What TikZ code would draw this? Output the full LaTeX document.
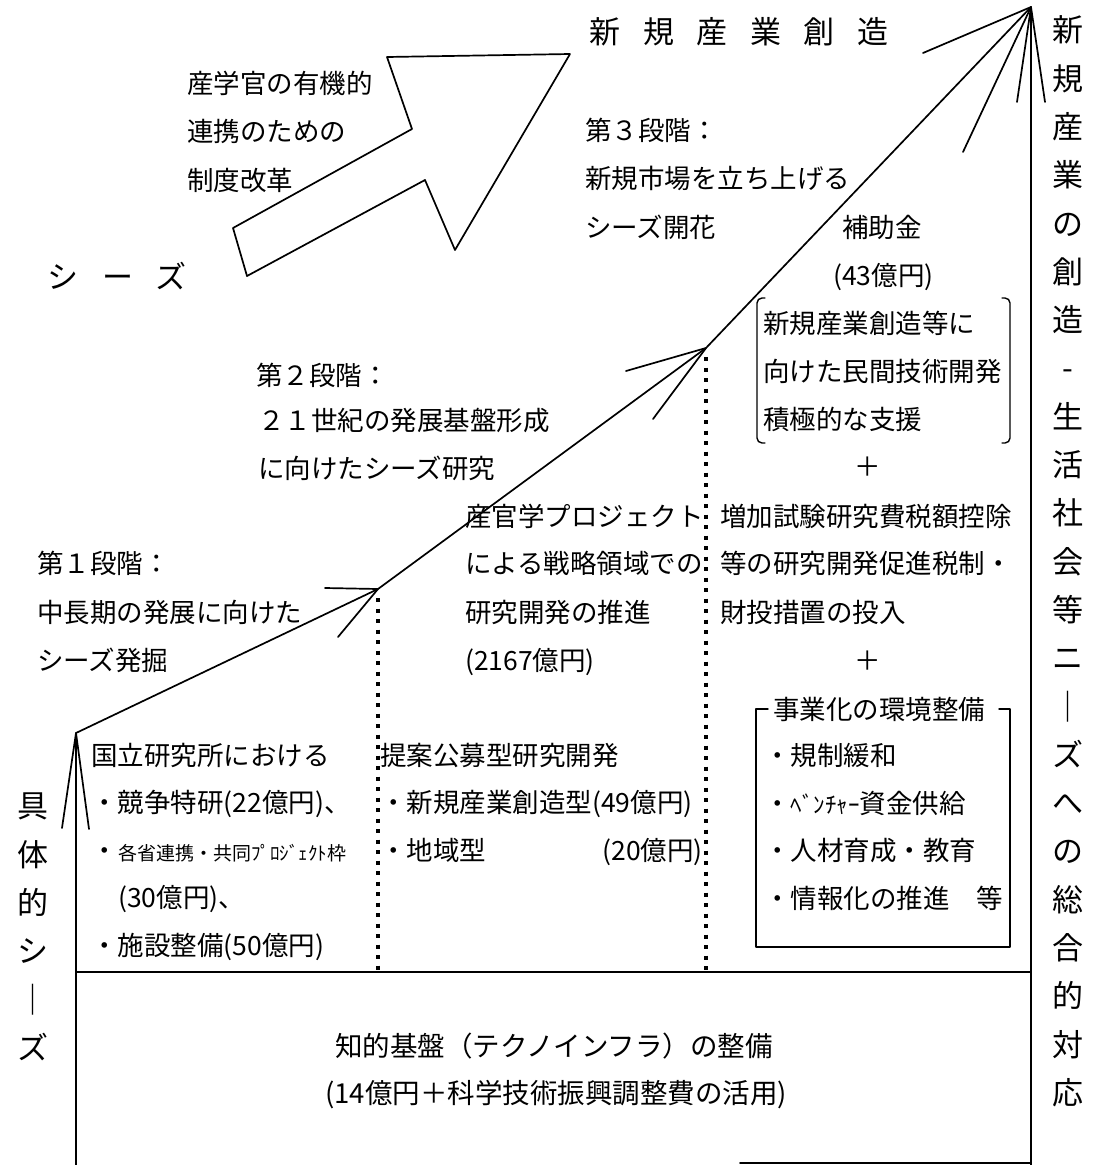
\documentclass[tikz,border=0pt]{standalone}
\usepackage{fontspec}
\newfontfamily\jp{Noto Sans CJK JP}
\begin{document}
\begin{tikzpicture}[x=1pt,y=-1pt,
  txt/.style={anchor=west,inner sep=0pt,font=\jp\fontsize{26.5}{30}\selectfont,text height=23.3pt,text depth=3.2pt},
  ctr/.style={anchor=center,inner sep=0pt,font=\jp\fontsize{27.5}{30}\selectfont,text height=24.2pt,text depth=3.3pt},
  wide/.style={anchor=center,inner sep=0pt,font=\jp\fontsize{31}{34}\selectfont,text height=27.3pt,text depth=3.7pt},
  ln/.style={line width=1.7pt,line cap=round,line join=round},
  thin/.style={line width=1.4pt,line cap=round,line join=round},
  dotline/.style={line width=3.6pt,dash pattern=on 4pt off 6.5pt}]
\useasboundingbox (0,0) rectangle (1111,1165);

% ---- block arrow (institutional reform) ----
\draw[ln] (233,228) -- (412,129) -- (387,57) -- (570,54) -- (455,250) -- (425,180) -- (247,276) -- cycle;

% ---- main staircase line ----
\coordinate (A0) at (76,733);
\coordinate (A1) at (378,589);
\coordinate (A2) at (706,348);
\coordinate (A3) at (1031,7);
\coordinate (L0) at (76,1165);
\coordinate (R0) at (1031,1165);
\coordinate (B0) at (76,972);
\coordinate (B1) at (1031,972);
\coordinate (D1a) at (378,598);
\coordinate (D1b) at (378,970);
\coordinate (D2a) at (706,357);
\coordinate (D2b) at (706,970);
\coordinate (BB0) at (740,1163);
\coordinate (BB1) at (1031,1163);
\coordinate (a0l) at (62,828);
\coordinate (a0r) at (89,829);
\coordinate (a1l) at (325,588);
\coordinate (a1r) at (338,637);
\coordinate (a2l) at (626,371);
\coordinate (a2r) at (653,419);
\coordinate (a3l) at (923,53);
\coordinate (a3r) at (963,152);
\coordinate (a3vl) at (1017,102);
\coordinate (a3vr) at (1045,102);

\draw[ln] (L0) -- (A0) -- (A1) -- (A2) -- (A3) -- (R0);
\draw[ln] (a0l) -- (A0) -- (a0r);
\draw[ln] (a1l) -- (A1) -- (a1r);
\draw[ln] (a2l) -- (A2) -- (a2r);
\draw[ln] (a3l) -- (A3) -- (a3r);
\draw[ln] (a3vl) -- (A3) -- (a3vr);
\draw[ln] (B0) -- (B1);
\draw[ln] (BB0) -- (BB1);
\draw[dotline] (D1a) -- (D1b);
\draw[dotline] (D2a) -- (D2b);

% ---- brackets and box ----
\draw[thin,rounded corners=5pt] (765,298) -- (757,298) -- (757,443) -- (765,443);
\draw[thin,rounded corners=5pt] (1002,298) -- (1010,298) -- (1010,443) -- (1002,443);
\draw[thin] (768,709) -- (756,709) -- (756,947) -- (1010,947) -- (1010,709) -- (999,709);

% ---- texts ----
\node[txt] (t1) at (187,83) {産学官の有機的};
\node[txt] (t2) at (187,131) {連携のための};
\node[txt] (t3) at (187,180) {制度改革};

\node[wide] (s1) at (63,277) {シ};
\node[wide] (s2) at (118,277) {ー};
\node[wide] (s3) at (171,277) {ズ};

\foreach \c [count=\i from 0] in {新,規,産,業,創,造}
  \node[wide] (ti\i) at (605+53.5*\i,32) {\c};

\node[txt] (p3a) at (585,130) {第３段階：};
\node[txt] (p3b) at (585,178) {新規市場を立ち上げる};
\node[txt] (p3c) at (585,227) {シーズ開花};
\node[txt] (h1) at (842,227) {補助金};
\node[txt] (h2) at (833,275) {(43億円)};
\node[txt] (k1) at (763,323) {新規産業創造等に};
\node[txt] (k2) at (763,371) {向けた民間技術開発};
\node[txt] (k3) at (763,419) {積極的な支援};
\node[txt,anchor=center] (pl1) at (868,466) {＋};

\node[txt] (p2a) at (256,375) {第２段階：};
\node[txt] (p2b) at (258,420) {２１世紀の発展基盤形成};
\node[txt] (p2c) at (258,468) {に向けたシーズ研究};

\node[txt] (q1) at (465,516) {産官学プロジェクト};
\node[txt] (q2) at (465,563) {による戦略領域での};
\node[txt] (q3) at (465,612) {研究開発の推進};
\node[txt] (q4) at (465,660) {(2167億円)};

\node[txt] (z1) at (720,516) {増加試験研究費税額控除};
\node[txt] (z2) at (720,563) {等の研究開発促進税制・};
\node[txt] (z3) at (720,612) {財投措置の投入};
\node[txt,anchor=center] (pl2) at (868,660) {＋};

\node[txt] (p1a) at (37,563) {第１段階：};
\node[txt] (p1b) at (37,612) {中長期の発展に向けた};
\node[txt] (p1c) at (37,660) {シーズ発掘};

\node[txt] (n1) at (91,755) {国立研究所における};
\node[txt] (n2) at (91,802) {・競争特研(22億円)、};
\node[txt] (n3) at (91,850) {・};
\node[txt,font=\jp\fontsize{19}{22}\selectfont] (n3b) at (118,850) {各省連携・共同ﾌﾟﾛｼﾞｪｸﾄ枠};
\node[txt] (n4) at (118,897) {(30億円)、};
\node[txt] (n5) at (91,945) {・施設整備(50億円)};

\node[txt] (m1) at (380,755) {提案公募型研究開発};
\node[txt] (m2) at (380,802) {・新規産業創造型(49億円)};
\node[txt] (m3) at (380,850) {・地域型};
\node[txt,anchor=east] (m4) at (703,850) {(20億円)};

\node[txt,fill=white,inner xsep=2pt] (env) at (771,709) {事業化の環境整備};
\node[txt] (e1) at (764,755) {・規制緩和};
\node[txt] (e2) at (764,803) {・{\fontsize{23}{26}\selectfont ﾍﾞﾝﾁｬｰ}資金供給};
\node[txt] (e3) at (764,850) {・人材育成・教育};
\node[txt] (e4) at (764,898) {・情報化の推進　等};

\node[ctr] (f1) at (554,1046) {知的基盤（テクノインフラ）の整備};
\node[ctr] (f2) at (556,1093) {(14億円＋科学技術振興調整費の活用)};

% ---- vertical columns ----
\foreach \c [count=\i from 0] in {新,規,産,業,の,創,造,-,生,活,社,会,等,ニ,｜,ズ,へ,の,総,合,的,対,応}
  \node[wide] (rc\i) at (1068,30+48.3*\i) {\c};
\foreach \c [count=\i from 0] in {具,体,的,シ,｜,ズ}
  \node[wide] (lc\i) at (33,806+48.3*\i) {\c};
\end{tikzpicture}
\end{document}
